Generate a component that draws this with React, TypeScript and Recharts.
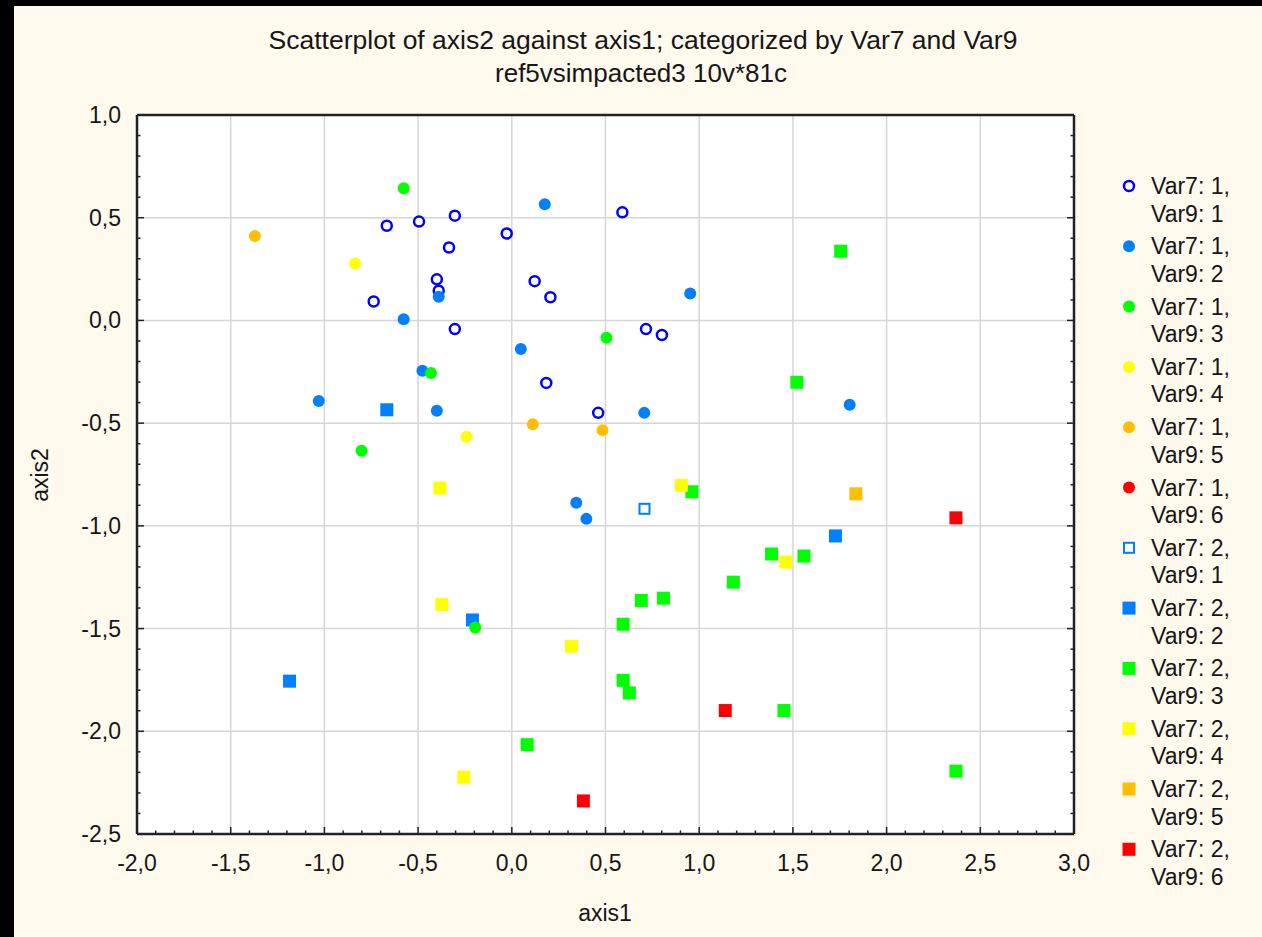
import { CartesianGrid, Scatter, ScatterChart, XAxis, YAxis } from 'recharts'

// axis ticks
const xMajor = [-2, -1.5, -1, -0.5, 0, 0.5, 1, 1.5, 2, 2.5, 3]
const yMajor = [-2.5, -2, -1.5, -1, -0.5, 0, 0.5, 1]
const xTicks = [
  -2, -1.9, -1.8, -1.7, -1.6, -1.5, -1.4, -1.3, -1.2, -1.1, -1, -0.9, -0.8, -0.7, -0.6, -0.5, -0.4,
  -0.3, -0.2, -0.1, 0, 0.1, 0.2, 0.3, 0.4, 0.5, 0.6, 0.7, 0.8, 0.9, 1, 1.1, 1.2, 1.3, 1.4, 1.5, 1.6,
  1.7, 1.8, 1.9, 2, 2.1, 2.2, 2.3, 2.4, 2.5, 2.6, 2.7, 2.8, 2.9, 3,
]
const yTicks = [
  -2.5, -2.4, -2.3, -2.2, -2.1, -2, -1.9, -1.8, -1.7, -1.6, -1.5, -1.4, -1.3, -1.2, -1.1, -1, -0.9,
  -0.8, -0.7, -0.6, -0.5, -0.4, -0.3, -0.2, -0.1, 0, 0.1, 0.2, 0.3, 0.4, 0.5, 0.6, 0.7, 0.8, 0.9, 1,
]

// points [axis1, axis2] per group
const v71_v91 = [
  [-0.667, 0.461], [-0.495, 0.481], [-0.304, 0.51], [-0.335, 0.355], [-0.027, 0.423], [-0.4, 0.2],
  [-0.39, 0.145], [-0.737, 0.092], [-0.304, -0.042], [0.59, 0.526], [0.122, 0.191], [0.206, 0.113],
  [0.716, -0.042], [0.801, -0.071], [0.184, -0.304], [0.461, -0.45],
]
const v71_v92 = [
  [0.176, 0.565], [0.952, 0.131], [-0.39, 0.115], [-0.577, 0.006], [0.048, -0.139], [-0.477, -0.245],
  [-1.03, -0.392], [-0.4, -0.44], [0.707, -0.45], [1.803, -0.411], [0.344, -0.888], [0.398, -0.966],
]
const v71_v93 = [[-0.577, 0.644], [0.505, -0.084], [-0.431, -0.256], [-0.802, -0.634], [-0.195, -1.495]]
const v71_v94 = [[-0.836, 0.277], [-0.242, -0.566]]
const v71_v95 = [[-1.371, 0.411], [0.112, -0.505], [0.484, -0.534]]
const v71_v96: number[][] = []
const v72_v91 = [[0.708, -0.917]]
const v72_v92 = [[-0.667, -0.435], [-0.21, -1.458], [-1.186, -1.756], [1.727, -1.049]]
const v72_v93 = [
  [1.755, 0.337], [1.521, -0.301], [0.961, -0.834], [1.386, -1.137], [1.559, -1.147], [1.182, -1.274],
  [0.691, -1.363], [0.809, -1.352], [0.594, -1.479], [0.594, -1.752], [0.627, -1.813], [1.452, -1.899],
  [0.082, -2.065], [2.37, -2.194],
]
const v72_v94 = [[0.905, -0.803], [1.462, -1.176], [0.318, -1.586], [-0.384, -0.816], [-0.373, -1.383], [-0.256, -2.223]]
const v72_v95 = [[1.836, -0.844]]
const v72_v96 = [[2.37, -0.961], [1.139, -1.899], [0.382, -2.339]]

const groups = [
  { name: ['Var7: 1,', 'Var9: 1'], pts: v71_v91, kind: 'openCircle', color: '#0000ff' },
  { name: ['Var7: 1,', 'Var9: 2'], pts: v71_v92, kind: 'circle', color: '#0080ff' },
  { name: ['Var7: 1,', 'Var9: 3'], pts: v71_v93, kind: 'circle', color: '#00ff00' },
  { name: ['Var7: 1,', 'Var9: 4'], pts: v71_v94, kind: 'circle', color: '#ffff00' },
  { name: ['Var7: 1,', 'Var9: 5'], pts: v71_v95, kind: 'circle', color: '#ffbf00' },
  { name: ['Var7: 1,', 'Var9: 6'], pts: v71_v96, kind: 'circle', color: '#ff0000' },
  { name: ['Var7: 2,', 'Var9: 1'], pts: v72_v91, kind: 'openSquare', color: '#0080ff' },
  { name: ['Var7: 2,', 'Var9: 2'], pts: v72_v92, kind: 'square', color: '#0080ff' },
  { name: ['Var7: 2,', 'Var9: 3'], pts: v72_v93, kind: 'square', color: '#00ff00' },
  { name: ['Var7: 2,', 'Var9: 4'], pts: v72_v94, kind: 'square', color: '#ffff00' },
  { name: ['Var7: 2,', 'Var9: 5'], pts: v72_v95, kind: 'square', color: '#ffbf00' },
  { name: ['Var7: 2,', 'Var9: 6'], pts: v72_v96, kind: 'square', color: '#ff0000' },
]

const FONT = '"Liberation Sans", Arial, sans-serif'
const INK = '#161616'
const FRAME = '#222'

const isMajor = (v: number) => Math.abs(v * 2 - Math.round(v * 2)) < 1e-6
const fmt = (v: number) => v.toFixed(1).replace('.', ',')

function Marker({ kind, color, cx, cy }: any) {
  if (kind === 'openCircle')
    return <circle cx={cx} cy={cy} r={5} fill="#fff" stroke={color} strokeWidth={2.5} />
  if (kind === 'circle') return <circle cx={cx} cy={cy} r={6} fill={color} />
  if (kind === 'openSquare')
    return <rect x={cx - 5} y={cy - 5} width={10} height={10} fill="#fff" stroke={color} strokeWidth={2} />
  return <rect x={cx - 6.5} y={cy - 6.5} width={13} height={13} fill={color} />
}

const BottomTick = ({ x, y, payload }: any) => {
  const major = isMajor(payload.value)
  return (
    <g>
      <line x1={x} x2={x} y1={y} y2={y - (major ? 7 : 3.5)} stroke={FRAME} strokeWidth={1.5} />
      {major && (
        <text x={x} y={y + 37} textAnchor="middle" fontFamily={FONT} fontSize={23} fill={INK}>
          {fmt(payload.value)}
        </text>
      )}
    </g>
  )
}
const TopTick = ({ x, y, payload }: any) => (
  <line x1={x} x2={x} y1={y} y2={y + (isMajor(payload.value) ? 7 : 3.5)} stroke={FRAME} strokeWidth={1.5} />
)
const LeftTick = ({ x, y, payload }: any) => {
  const major = isMajor(payload.value)
  return (
    <g>
      <line x1={x} x2={x + (major ? 7 : 3.5)} y1={y} y2={y} stroke={FRAME} strokeWidth={1.5} />
      {major && (
        <text x={x - 16} y={y + 8} textAnchor="end" fontFamily={FONT} fontSize={23} fill={INK}>
          {fmt(payload.value)}
        </text>
      )}
    </g>
  )
}
const RightTick = ({ x, y, payload }: any) => (
  <line x1={x} x2={x - (isMajor(payload.value) ? 7 : 3.5)} y1={y} y2={y} stroke={FRAME} strokeWidth={1.5} />
)

// squares first, circles drawn over them
const drawOrder = [6, 7, 8, 9, 10, 11, 0, 1, 2, 3, 4, 5]

export default function App() {
  const frameLine = { stroke: FRAME, strokeWidth: 2.5 }
  return (
    <div style={{ position: 'relative', width: 1262, height: 937, background: '#000', overflow: 'hidden' }}>
      <style>{'body{margin:0}'}</style>
      <div style={{ position: 'absolute', left: 14, top: 6, right: 0, bottom: 0, background: '#fff9ee' }} />
      <div style={{ position: 'absolute', left: 0, top: 0 }}>
        <ScatterChart width={1262} height={937} margin={{ top: 114, right: 187, bottom: 102, left: 136 }}>
          <CartesianGrid
            stroke="#d6d6d6"
            strokeWidth={1.5}
            fill="#ffffff"
            verticalValues={xMajor}
            horizontalValues={yMajor}
          />
          <XAxis
            dataKey="x"
            type="number"
            domain={[-2, 3]}
            ticks={xTicks}
            interval={0}
            allowDataOverflow
            height={1}
            tickSize={0}
            tickMargin={0}
            axisLine={frameLine}
            tick={<BottomTick />}
          />
          <XAxis
            xAxisId="top"
            orientation="top"
            type="number"
            domain={[-2, 3]}
            ticks={xTicks}
            interval={0}
            allowDataOverflow
            height={1}
            tickSize={0}
            tickMargin={0}
            axisLine={frameLine}
            tick={<TopTick />}
          />
          <YAxis
            dataKey="y"
            type="number"
            domain={[-2.5, 1]}
            ticks={yTicks}
            interval={0}
            allowDataOverflow
            width={1}
            tickSize={0}
            tickMargin={0}
            axisLine={frameLine}
            tick={<LeftTick />}
          />
          <YAxis
            yAxisId="right"
            orientation="right"
            type="number"
            domain={[-2.5, 1]}
            ticks={yTicks}
            interval={0}
            allowDataOverflow
            width={1}
            tickSize={0}
            tickMargin={0}
            axisLine={frameLine}
            tick={<RightTick />}
          />
          {drawOrder.map((i) => {
            const g = groups[i]
            return (
              <Scatter
                key={i}
                name={g.name.join(' ')}
                data={g.pts.map(([x, y]) => ({ x, y }))}
                isAnimationActive={false}
                shape={(p: any) => <Marker kind={g.kind} color={g.color} cx={p.cx} cy={p.cy} />}
              />
            )
          })}
        </ScatterChart>
      </div>
      <svg
        width={1262}
        height={937}
        style={{ position: 'absolute', left: 0, top: 0, pointerEvents: 'none' }}
        fontFamily={FONT}
        fill={INK}
      >
        <text x={643} y={49} textAnchor="middle" fontSize={26.5}>
          Scatterplot of axis2 against axis1; categorized by Var7 and Var9
        </text>
        <text x={641} y={82} textAnchor="middle" fontSize={26}>
          ref5vsimpacted3 10v*81c
        </text>
        <text x={605} y={921} textAnchor="middle" fontSize={23}>
          axis1
        </text>
        <text x={48} y={475} textAnchor="middle" fontSize={23} transform="rotate(-90 48 475)">
          axis2
        </text>
        {groups.map((g, i) => {
          const cy = 186 + 60.3 * i
          return (
            <g key={i}>
              <Marker kind={g.kind} color={g.color} cx={1129} cy={cy} />
              <text x={1151} y={cy + 8} fontSize={23}>
                {g.name[0]}
              </text>
              <text x={1151} y={cy + 35.5} fontSize={23}>
                {g.name[1]}
              </text>
            </g>
          )
        })}
      </svg>
    </div>
  )
}
